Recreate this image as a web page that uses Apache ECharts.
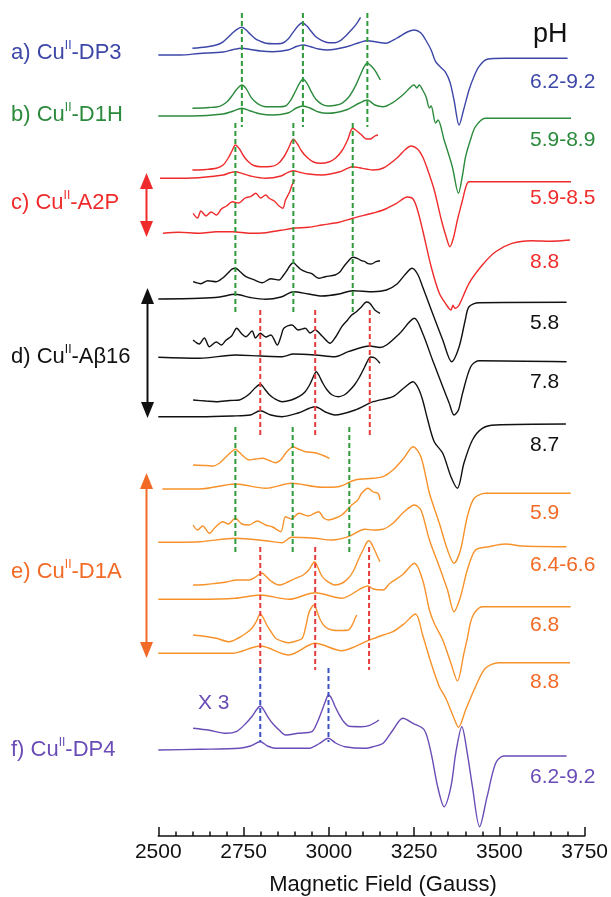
<!DOCTYPE html>
<html><head><meta charset="utf-8">
<script src="https://cdn.jsdelivr.net/npm/echarts@6/dist/echarts.min.js"></script>
<style>html,body{margin:0;padding:0;background:#fff}#c{width:611px;height:897px}</style>
</head><body><div id="c"></div>
<script>
// ---------------- data ----------------
const fieldTicks = [2500, 2750, 3000, 3250, 3500, 3750];

// signal values (arbitrary units, relative to each trace's own baseline) vs magnetic field (G)
const dp3Main = [[2500,0],[2565,0],[2620,1.5],[2690,3],[2720,5.5],[2745,6.7],[2770,5.5],[2800,4],[2835,3.3],[2880,5],[2905,8.5],[2924,10],[2945,8.5],[2970,6],[2997,5],[3050,8],[3090,12.5],[3113,14.3],[3140,13],[3167,11.7],[3200,17],[3230,23],[3251,25],[3270,22],[3284,15],[3300,5],[3313,-6.7],[3330,-13],[3341,-16.7],[3355,-27],[3367,-45],[3382,-70],[3395,-55],[3411,-35],[3425,-22],[3440,-11.7],[3464,-4.3],[3517,-3.3],[3700,-3.3]];
const dp3Inset = [[2600,0],[2640,1.3],[2670,3.3],[2690,6.5],[2705,11],[2720,16],[2733,19.5],[2745,21],[2757,18.5],[2770,14],[2785,9.5],[2800,7],[2815,5],[2840,4.5],[2863,5],[2880,9],[2895,16],[2910,22.5],[2922,25.6],[2935,22.5],[2948,17],[2962,11.5],[2980,7.6],[3000,5.5],[3018,5.6],[3035,8],[3050,12.5],[3065,18],[3080,24],[3093,31]];
const d1hMain = [[2500,0],[2600,0],[2690,2],[2720,5],[2745,7.7],[2770,5],[2800,2],[2835,1],[2880,3],[2905,8],[2924,10],[2945,8],[2970,4],[2997,2.7],[3050,6],[3090,13],[3113,16],[3135,11],[3159,9.3],[3190,14],[3220,22],[3250,31],[3258,28],[3265,31],[3275,26],[3285,19.3],[3295,8],[3300,10],[3313,-7],[3320,-4],[3338,-24],[3362,-50.7],[3380,-77.3],[3392,-59],[3401,-40.7],[3415,-24],[3430,-10.7],[3459,-2.3],[3710,-2.3]];
const d1hInset = [[2600,0],[2650,0.8],[2680,2],[2700,6],[2715,12],[2730,19],[2745,23.3],[2758,19.5],[2772,11],[2790,5],[2815,1.6],[2850,1.5],[2873,2.3],[2888,8],[2902,17],[2914,25],[2924,29],[2936,25],[2948,17],[2962,9],[2980,4],[2999,2.3],[3020,3],[3038,5],[3058,11],[3077,21.6],[3092,33],[3104,42],[3113,45],[3125,42],[3137,37],[3151,28.3]];
const a2pMain1 = [[2505,0],[2600,0.3],[2690,3.3],[2710,5.5],[2726,6.6],[2745,5],[2770,2.3],[2815,0],[2860,2.3],[2880,6],[2896,7.6],[2915,6],[2940,4.3],[2980,3.3],[3030,6.3],[3055,10],[3070,11.6],[3090,10.5],[3110,9.3],[3130,8.3],[3160,10.3],[3200,20.3],[3225,29],[3241,32.3],[3260,29.3],[3275,21.6],[3290,8.3],[3309,-11.7],[3330,-41.7],[3345,-59.7],[3355,-68.4],[3365,-60],[3377,-41.7],[3392,-21.7],[3402,-8.4],[3411,-3.4],[3710,-3.4]];
const a2pInset1 = [[2600,0],[2640,0.5],[2670,1.7],[2690,5],[2705,12],[2716,19],[2726,25],[2738,21],[2750,14],[2765,8],[2780,4.5],[2800,3.3],[2830,3.5],[2850,6],[2868,13],[2882,22],[2896,30.7],[2908,26],[2920,19],[2935,13],[2955,8],[2975,6.7],[3000,8],[3020,12],[3040,20],[3055,30],[3070,41.7],[3082,39],[3096,35],[3110,31],[3122,31],[3135,34],[3144,35]];
const a2pMain2 = [[2514,0],[2560,1],[2621,0],[2670,1.5],[2717,1.6],[2770,0],[2815,0.6],[2860,3],[2896,5],[2940,6],[2980,8.3],[3030,11],[3070,15],[3130,20.3],[3159,23.3],[3200,30.3],[3230,36.3],[3247,34.3],[3260,23.3],[3275,3.3],[3300,-33.4],[3324,-60],[3345,-71.7],[3358,-76.7],[3364,-72],[3370,-75],[3382,-71.7],[3411,-50],[3450,-31.7],[3489,-18.4],[3537,-10],[3595,-7.4],[3650,-7.9],[3707,-6.7]];
const a2pInset2 = [[2602,0],[2615,-4.7],[2625,2.3],[2640,-2.7],[2655,1.3],[2670,-1.7],[2685,4.3],[2700,7.3],[2717,11.6],[2735,10.3],[2755,15.3],[2770,16.6],[2786,20],[2800,15.3],[2815,18.3],[2825,15],[2840,12.3],[2854,7.3],[2865,5],[2873,13.3],[2885,21.3],[2892,28.3],[2900,33.3]];
const ab16Main1 = [[2500,-0.5],[2621,0.2],[2680,1.5],[2726,4.2],[2770,1],[2815,-0.8],[2860,1.5],[2896,6.8],[2940,4.5],[2980,2.5],[3030,4.5],[3070,7.8],[3130,6.8],[3169,8.5],[3200,14.5],[3225,24.5],[3244,30.2],[3260,24.5],[3275,11.8],[3304,-14.8],[3334,-41.5],[3360,-63.2],[3382,-48.2],[3400,-21.5],[3411,-8.2],[3440,-4.2],[3697,-3.8]];
const ab16Inset1 = [[2602,0],[2625,-2],[2645,1],[2670,0],[2690,4],[2705,9],[2716,12.5],[2726,13.4],[2740,10],[2757,5],[2780,2],[2805,-1],[2830,3],[2854,1.7],[2866,6],[2878,11.7],[2888,17],[2896,19],[2906,16],[2915,13],[2931,10],[2950,8],[2970,3.4],[2990,5],[3018,6.7],[3033,10],[3045,15.7],[3058,21],[3070,24.4],[3085,23],[3096,21],[3106,20],[3115,18],[3124,17.7],[3138,20],[3150,21]];
const ab16Main2 = [[2500,0],[2621,-1],[2726,2.3],[2799,1.3],[2863,0.6],[2896,3.3],[2960,2.3],[3018,0.6],[3057,5.6],[3120,11.3],[3150,9.8],[3169,12.3],[3208,24],[3251,39],[3275,24],[3304,-2.7],[3334,-29.4],[3353,-46],[3367,-57.7],[3380,-52.7],[3392,-36],[3416,-9.4],[3440,-3.4],[3697,-4.4]];
const ab16Inset2 = [[2602,0],[2620,-4],[2635,2],[2650,-6.7],[2670,-2],[2685,-5],[2699,0],[2715,4],[2730,11.7],[2745,6],[2757,3.3],[2775,9],[2785,2],[2799,6.7],[2815,3],[2830,5],[2849,-5],[2860,4],[2868,11.7],[2892,15],[2910,10],[2931,11.7],[2945,7],[2960,10],[2980,4],[3004,-3.3],[3020,3],[3038,13.3],[3055,20],[3067,25],[3080,28],[3096,33.3],[3110,38],[3120,36.7],[3135,30],[3150,26.7]];
const ab16Main3 = [[2500,0],[2621,0],[2717,0.7],[2770,1.7],[2799,6],[2830,1.7],[2863,0],[2910,3.7],[2960,10],[2990,4.7],[3018,1.7],[3077,6.7],[3130,15],[3188,20],[3220,28.7],[3247,35],[3262,28.7],[3275,16.7],[3290,-3.3],[3309,-25],[3334,-36.6],[3358,-60],[3377,-71.6],[3396,-46.6],[3421,-23.3],[3450,-11.6],[3489,-8.3],[3695,-7.3]];
const ab16Inset3 = [[2602,0],[2640,-1],[2670,-1.7],[2710,-0.5],[2738,0],[2755,3],[2770,7],[2785,12.5],[2799,15.7],[2812,11],[2825,5.5],[2840,1.5],[2863,-1.7],[2890,0],[2912,3.3],[2930,8],[2945,16],[2955,23.5],[2963,28.3],[2972,24],[2982,17],[2995,10],[3010,5],[3028,3.3],[3045,5],[3057,8.3],[3075,15],[3090,23],[3105,33],[3115,40],[3122,43],[3135,42],[3150,36.7]];
const d1aMain1 = [[2512,0],[2621,0],[2726,5],[2815,0.7],[2890,5.7],[2980,1.7],[3028,2.3],[3077,9],[3130,10.7],[3159,12.3],[3188,19],[3220,31],[3247,42.3],[3270,32.3],[3295,-4.3],[3324,-34.3],[3348,-61],[3367,-74.3],[3386,-61],[3406,-27.7],[3426,-9.3],[3459,-4.3],[3709,-4.3]];
const d1aInset1 = [[2602,0],[2640,-0.5],[2660,-1],[2680,2],[2699,8.3],[2712,12.5],[2726,15.7],[2738,12.5],[2752,8],[2766,5],[2785,6],[2805,6.7],[2825,4.5],[2844,2.3],[2860,5.5],[2873,11.7],[2885,16],[2895,18.3],[2910,16],[2931,13.3],[2960,12.3],[2980,10],[3002,6.7]];
const d1aMain2 = [[2500,-0.3],[2621,0.3],[2726,3.7],[2815,1.3],[2863,-0.7],[2890,4.7],[2960,3.7],[3009,2],[3057,5.3],[3106,12.7],[3130,12],[3159,12.7],[3188,18.7],[3220,30],[3251,37],[3270,32],[3295,2],[3324,-24.7],[3348,-48],[3367,-69.7],[3386,-54.7],[3406,-28],[3430,-8],[3469,-4.7],[3517,-2],[3566,-4],[3697,-4.7]];
const d1aInset2 = [[2602,0],[2615,-5],[2630,-1],[2650,-8.3],[2665,-3],[2689,3.3],[2705,1],[2726,6.7],[2745,1],[2766,0],[2790,4],[2815,0],[2835,-2],[2859,-6.7],[2873,8.3],[2890,6],[2912,11.7],[2940,9],[2970,13.3],[2985,7],[2999,5],[3020,7],[3038,10],[3067,20],[3085,25],[3096,31.7],[3115,36.7],[3130,33],[3144,31.7],[3150,25]];
const d1aMain3 = [[2500,0],[2621,0],[2726,1],[2799,4.3],[2883,0],[2960,6.6],[3038,1],[3115,13.3],[3130,10.3],[3159,9.3],[3179,16],[3215,24.3],[3251,36],[3275,19.3],[3295,-10.7],[3309,-24],[3334,-40.7],[3358,-64],[3377,-81.7],[3396,-54],[3405,-40.7],[3421,-17.4],[3450,-7.4],[3709,-7.4]];
const d1aInset3 = [[2602,0],[2640,0.5],[2670,1.7],[2700,3],[2730,5],[2766,5],[2785,8],[2797,11],[2805,11.7],[2815,9],[2830,4],[2854,0],[2880,3],[2902,6.7],[2925,10],[2941,15],[2952,21],[2958,23.3],[2966,19],[2978,10],[2990,5],[3018,0],[3040,2],[3057,6.7],[3072,14],[3086,25],[3100,35],[3112,43],[3118,44.3],[3130,38],[3142,29],[3150,23.3]];
const d1aMain4 = [[2500,0],[2621,0],[2717,0],[2799,7.3],[2883,-1.7],[2960,10],[3038,2.6],[3115,12.6],[3159,18.3],[3188,21.6],[3220,29.3],[3254,39.3],[3275,18.3],[3300,-10],[3324,-33.4],[3343,-45],[3367,-65],[3380,-74],[3401,-56.7],[3430,-33.4],[3459,-15],[3498,-9.4],[3707,-9.4]];
const d1aInset4 = [[2602,0],[2640,-1.5],[2670,-3.3],[2708,-6.7],[2735,-3],[2757,1.7],[2775,7],[2788,14],[2799,21],[2808,17],[2818,10],[2830,3.5],[2844,-3.3],[2865,-6.5],[2883,-7.7],[2905,-6],[2922,-3.3],[2932,8],[2941,21.7],[2950,28],[2957,30],[2965,24],[2975,15],[2990,8],[3009,5],[3035,4.5],[3057,5],[3070,11],[3077,16.7],[3082,20]];
const dp4Main = [[2500,0],[2621,0.7],[2738,1.7],[2770,4],[2799,8.3],[2820,4],[2844,1.7],[2941,1.7],[2970,6],[2999,11.7],[3020,7],[3047,3.3],[3106,1.7],[3130,3.3],[3159,6.7],[3188,20],[3217,31.7],[3247,26.7],[3280,20],[3300,-3.3],[3319,-36.7],[3338,-56.7],[3358,-36.7],[3372,-3.3],[3390,23.3],[3406,-3.3],[3421,-36.7],[3442,-76.7],[3464,-46.7],[3489,-13.3],[3513,-6],[3697,-6]];
const dp4Inset = [[2602,0],[2650,-2],[2699,-5],[2730,-3],[2757,5],[2775,12],[2788,18.5],[2799,22.3],[2810,18],[2822,11],[2836,4.5],[2855,-2],[2873,-6.7],[2910,-5],[2950,-3.4],[2965,5],[2978,16],[2990,27],[2999,33.3],[3008,30],[3018,22],[3030,14],[3045,6],[3060,2],[3096,1.6],[3120,3],[3147,8.3]];

// vertical stacking offsets of each trace (same units as the y scale)
const traceNames   = ['dp3Main','dp3Inset','d1hMain','d1hInset','a2pMain1','a2pInset1','a2pMain2','a2pInset2','ab16Main1','ab16Inset1','ab16Main2','ab16Inset2','ab16Main3','ab16Inset3','d1aMain1','d1aInset1','d1aMain2','d1aInset2','d1aMain3','d1aInset3','d1aMain4','d1aInset4','dp4Main','dp4Inset'];
const traceOffsets = [781, 787.7, 720, 727.7, 657.7, 666, 602.7, 622.7, 537.5, 554.3, 478.7, 496, 419.3, 436, 347, 371, 294, 311, 236.7, 251, 182.7, 201, 86, 107.7];
const traceData = [dp3Main,dp3Inset,d1hMain,d1hInset,a2pMain1,a2pInset1,a2pMain2,a2pInset2,ab16Main1,ab16Inset1,ab16Main2,ab16Inset2,ab16Main3,ab16Inset3,d1aMain1,d1aInset1,d1aMain2,d1aInset2,d1aMain3,d1aInset3,d1aMain4,d1aInset4,dp4Main,dp4Inset];

// dashed guide lines: field positions and vertical spans
const guideFields = [[2745,2924,3113],[2726,2896,3070],[2799,2960,3120],[2726,2894,3060],[2799,2960,3118],[2799,2999]];
const guideSpans  = [[823,709],[713,521],[526,401],[409,284],[289,166],[168,94]];

const sampleLabels = [['a) Cu','-DP3'],['b) Cu','-D1H'],['c) Cu','-A2P'],['d) Cu','-Aβ16'],['e) Cu','-D1A'],['f) Cu','-DP4']];
const phLabels = ['6.2-9.2','5.9-8.9','5.9-8.5','8.8','5.8','7.8','8.7','5.9','6.4-6.6','6.8','8.8','6.2-9.2'];

// ---------------- styles ----------------
const BLUE='#3c47a8', GREEN='#2b8a3c', RED='#ef2b2b', BLACK='#111111', ORANGE='#f7922a', PURPLE='#6a4cb6';
const ORTXT='#f26a25';
const traceColors = [BLUE,BLUE,GREEN,GREEN,RED,RED,RED,RED,BLACK,BLACK,BLACK,BLACK,BLACK,BLACK,ORANGE,ORANGE,ORANGE,ORANGE,ORANGE,ORANGE,ORANGE,ORANGE,PURPLE,PURPLE];
const guideColors = ['#2e9a3c','#2e9a3c','#e83a3a','#2e9a3c','#e83a3a','#3a52c4'];
const sampleColors = [BLUE,GREEN,RED,BLACK,ORTXT,PURPLE];
const sampleY = [53,115,203,357,572,750];
const phColors = [BLUE,GREEN,RED,RED,BLACK,BLACK,BLACK,ORTXT,ORTXT,ORTXT,ORTXT,PURPLE];
const phY = [82,140,198,262,323,382,445,513,565,625,682,777];
const FONT = '"Liberation Sans", Arial, Helvetica, sans-serif';

const series = [];
traceData.forEach((d, i) => {
  const off = traceOffsets[i];
  series.push({
    name: traceNames[i], type: 'line', showSymbol: false, symbol: 'none',
    smooth: 0.3, animation: false, silent: true, z: 2,
    lineStyle: { color: traceColors[i], width: 1.4 },
    data: d.map(p => [p[0], off + p[1]])
  });
});
guideFields.forEach((fs, gi) => {
  fs.forEach(f => {
    series.push({
      type: 'line', symbol: 'none', animation: false, silent: true, z: 4,
      lineStyle: { color: guideColors[gi], width: 2, type: [5, 3] },
      data: [[f, guideSpans[gi][0]], [f, guideSpans[gi][1]]]
    });
  });
});

const graphics = [];
sampleLabels.forEach((s, i) => {
  graphics.push({
    type: 'text', x: 11, y: sampleY[i], z: 10,
    style: {
      text: '{m|' + s[0] + '}{s|II}{m|' + s[1] + '}',
      align: 'left', verticalAlign: 'middle', textAlign: 'left', textVerticalAlign: 'middle',
      fill: sampleColors[i],
      rich: {
        m: { fontSize: 22, fontFamily: FONT, fill: sampleColors[i], lineHeight: 26 },
        s: { fontSize: 12, fontFamily: FONT, fill: sampleColors[i], verticalAlign: 'top', lineHeight: 14 }
      }
    }
  });
});
graphics.push({ type: 'text', x: 533, y: 35, z: 10,
  style: { text: 'pH', font: '27px ' + FONT, fill: BLACK, align: 'left', verticalAlign: 'middle', textAlign: 'left', textVerticalAlign: 'middle' } });
phLabels.forEach((t, i) => {
  graphics.push({ type: 'text', x: 530, y: phY[i], z: 10,
    style: { text: t, font: '21px ' + FONT, fill: phColors[i], align: 'left', verticalAlign: 'middle', textAlign: 'left', textVerticalAlign: 'middle' } });
});
graphics.push({ type: 'text', x: 198, y: 703, z: 10,
  style: { text: 'X 3', font: '21px ' + FONT, fill: PURPLE, align: 'left', verticalAlign: 'middle', textAlign: 'left', textVerticalAlign: 'middle' } });
graphics.push({ type: 'text', x: 383, y: 885, z: 10,
  style: { text: 'Magnetic Field (Gauss)', font: '22px ' + FONT, fill: BLACK, align: 'center', verticalAlign: 'middle', textAlign: 'center', textVerticalAlign: 'middle' } });

function dblArrow(x, y1, y2, color) {
  const hl = 16, hw = 6.5;
  graphics.push({ type: 'line', z: 10, shape: { x1: x, y1: y1 + hl - 2, x2: x, y2: y2 - hl + 2 }, style: { stroke: color, lineWidth: 2 } });
  graphics.push({ type: 'polygon', z: 10, shape: { points: [[x, y1], [x - hw, y1 + hl], [x + hw, y1 + hl]] }, style: { fill: color } });
  graphics.push({ type: 'polygon', z: 10, shape: { points: [[x, y2], [x - hw, y2 - hl], [x + hw, y2 - hl]] }, style: { fill: color } });
}
dblArrow(146.5, 173, 237, RED);
dblArrow(147.5, 288, 418, BLACK);
dblArrow(146.5, 473, 658, ORTXT);

const chart = echarts.init(document.getElementById('c'), null, { renderer: 'canvas' });
chart.setOption({
  animation: false,
  backgroundColor: '#ffffff',
  grid: { left: 158.3, right: 22.7, top: 0, bottom: 61, containLabel: false },
  xAxis: {
    type: 'value', min: fieldTicks[0], max: fieldTicks[fieldTicks.length - 1], interval: 250,
    axisLine: { show: true, onZero: false, lineStyle: { color: '#111', width: 1.6 } },
    axisTick: { show: true, inside: true, length: 9, lineStyle: { color: '#111', width: 1.5 } },
    minorTick: { show: true, splitNumber: 5, length: 4.5, lineStyle: { color: '#111', width: 1.5 } },
    splitLine: { show: false },
    axisLabel: { show: true, margin: 6, fontSize: 21, fontFamily: FONT, color: '#111', formatter: v => String(v) }
  },
  yAxis: { type: 'value', min: 0, max: 836, show: false },
  series: series,
  graphic: graphics
});
</script>
</body></html>
